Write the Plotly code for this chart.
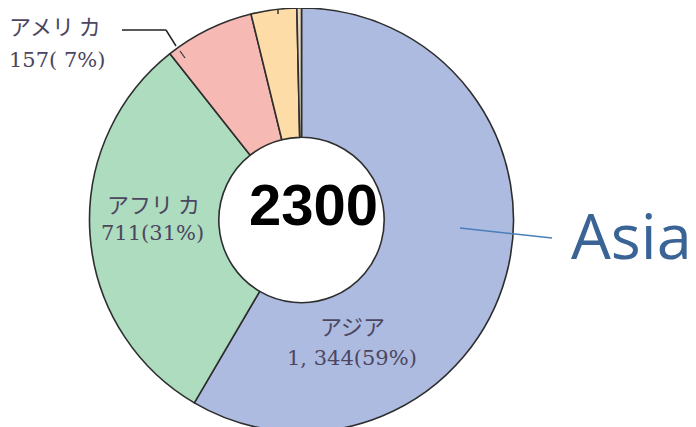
import plotly.graph_objects as go

regions = ["アジア", "アフリカ", "アメリカ", "ヨーロッパ", "オセアニア"]
values = [1344, 711, 157, 80, 8]
colors = ["#aebbe0", "#addcbf", "#f6b9b4", "#fddca8", "#e8d8c0"]
total_label = "2300"

OFF = 8          # page body margin in the browser
PH = 424         # plot height
fig = go.Figure()
fig.add_trace(go.Pie(
    labels=regions, values=values, sort=False, direction="clockwise", rotation=0,
    hole=0.39, textinfo="none", hoverinfo="label+value",
    marker=dict(colors=colors, line=dict(color="#2e2e2e", width=1.6)),
    domain=dict(x=[0, 587/696], y=[0, 1]), showlegend=False,
))

kana = "Noto Sans CJK JP"
num = "DejaVu Serif"
tc = "#4c4660"

def px(x): return (x - OFF) / 696
def py(y): return 1 - (y - OFF) / PH

def ann(x, y, t, size=22, fam=kana, color=tc, xanchor="center"):
    fig.add_annotation(x=px(x), y=py(y), xref="paper", yref="paper", text=t, showarrow=False,
                       xanchor=xanchor, yanchor="middle",
                       font=dict(family=fam, size=size, color=color))

ann(153, 203, "アフリ カ")
ann(152, 233, "711(31%)", size=21, fam=num)
ann(352, 325, "アジア")
ann(352, 358, "1, 344(59%)", size=21, fam=num)
ann(55, 25, "アメリ カ")
ann(57, 60, "157( 7%)", size=21, fam=num)
ann(313, 205, "<b>" + total_label + "</b>", size=58, fam="Liberation Sans", color="#000000")
ann(569, 235, "Asia", size=63, fam="Open Sans", color="#3a6496", xanchor="left")

def seg(x0, y0, x1, y1, color="#222", width=1.5):
    return dict(type="line", xref="paper", yref="paper", x0=px(x0), y0=py(y0), x1=px(x1), y1=py(y1),
                line=dict(color=color, width=width), layer="above")

shapes = [
    seg(460, 228, 552, 238, color="#4a7ebb", width=1.5),
    seg(122, 30, 166, 30),
    seg(166, 30, 176, 46),
    seg(180, 51, 185, 58, color="#333", width=1.2),
    seg(278, 10, 278, 14, color="#333"),
]
fig.update_layout(width=696, height=427, margin=dict(l=0, r=0, t=0, b=427 - PH),
                  paper_bgcolor="white", plot_bgcolor="white", shapes=shapes)
fig.write_html("out.html")
